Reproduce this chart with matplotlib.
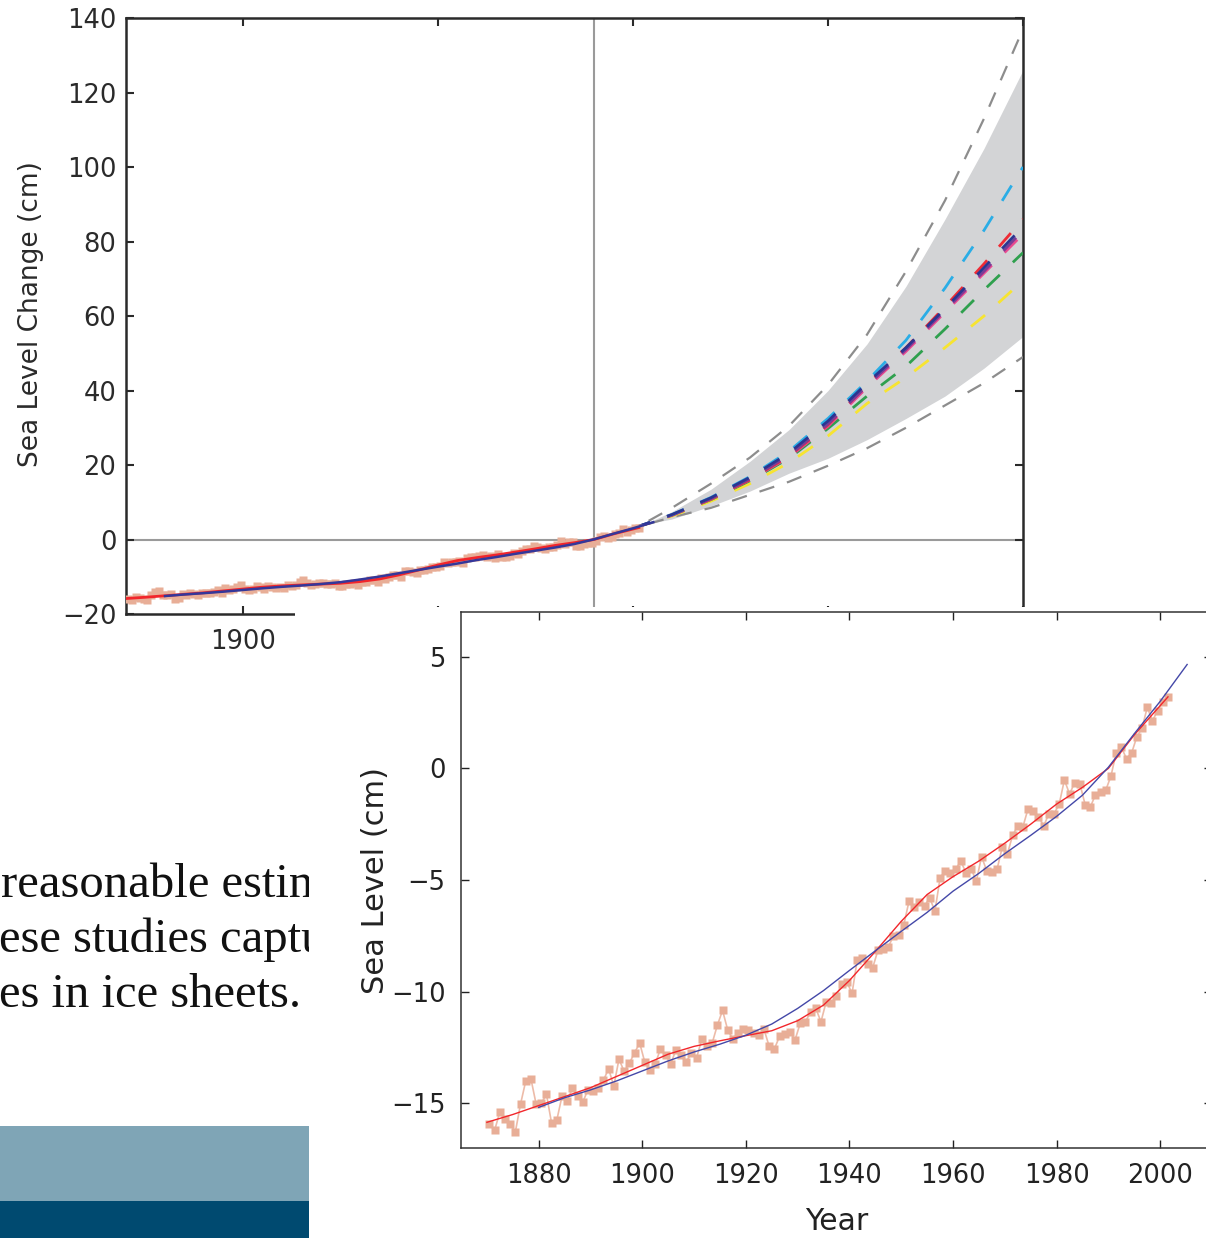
import numpy as np
import matplotlib
matplotlib.use("Agg")
import matplotlib.pyplot as plt
from matplotlib.patches import Rectangle

# ---------------- data ----------------
obs_years = list(range(1870, 2002))
obs_values = [
    -15.94, -16.20, -15.38, -15.70, -15.94, -16.27, -15.03, -14.00, -13.90, -15.03,
    -15.00, -14.60, -15.90, -15.75, -14.68, -14.90, -14.33, -14.69, -14.96, -14.39,
    -14.44, -14.33, -13.97, -13.45, -14.23, -13.02, -13.57, -13.21, -12.74, -12.30,
    -13.17, -13.51, -13.24, -12.57, -12.84, -13.24, -12.60, -12.84, -13.13, -12.75,
    -12.95, -12.13, -12.45, -12.30, -11.50, -10.84, -11.72, -12.13, -11.83, -11.65,
    -11.71, -11.86, -11.95, -11.68, -12.45, -12.57, -12.00, -11.89, -11.80, -12.16,
    -11.41, -11.35, -10.90, -10.74, -11.35, -10.46, -10.51, -10.19, -9.66, -9.56,
    -10.08, -8.58, -8.49, -8.76, -8.92, -8.15, -8.10, -8.00, -7.50, -7.45,
    -7.00, -5.95, -6.22, -5.98, -6.16, -5.80, -6.40, -4.91, -4.58, -4.70,
    -4.52, -4.16, -4.67, -4.49, -5.06, -3.95, -4.58, -4.64, -4.52, -3.53,
    -3.83, -3.00, -2.58, -2.61, -1.80, -1.89, -2.16, -2.58, -2.04, -2.04,
    -1.60, -0.52, -1.15, -0.64, -0.70, -1.62, -1.74, -1.18, -1.06, -0.97,
    -0.34, 0.70, 0.94, 0.43, 0.70, 1.42, 1.80, 2.73, 2.13, 2.58,
    2.97, 3.18,
]

smooth_years = [1870, 1875, 1880, 1885, 1890, 1895, 1900, 1905, 1910, 1915, 1920,
                1925, 1930, 1935, 1940, 1945, 1950, 1955, 1960, 1965, 1970, 1975,
                1980, 1985, 1990, 1995, 2001.5]
smooth_values = [-15.85, -15.5, -15.1, -14.7, -14.3, -13.8, -13.3, -12.8, -12.45, -12.2,
                 -11.97, -11.75, -11.3, -10.6, -9.5, -8.2, -6.85, -5.65, -4.85, -4.15,
                 -3.35, -2.5, -1.6, -0.85, 0.0, 1.5, 3.2]

fit_years = [1880, 1885, 1890, 1895, 1900, 1905, 1910, 1915, 1920, 1925, 1930, 1935,
             1940, 1945, 1950, 1955, 1960, 1965, 1970, 1975, 1980, 1985, 1990, 1995,
             2000, 2005.2]
fit_values = [-15.18, -14.75, -14.4, -14.0, -13.55, -13.1, -12.7, -12.35, -11.95, -11.45,
              -10.75, -9.95, -9.05, -8.17, -7.3, -6.45, -5.5, -4.7, -3.82, -3.0, -2.15,
              -1.2, 0.05, 1.55, 3.0, 4.65]

# projections (cm, relative to 1990)
proj_years = [2000, 2010, 2020, 2030, 2040, 2050, 2060, 2070, 2080, 2090, 2100]
scen_navy = [3.0, 6.7, 11.2, 16.7, 23.2, 31.8, 42.0, 51.5, 62.0, 73.0, 84.0]
scen_cyan = [3.0, 6.7, 11.3, 16.9, 23.7, 32.5, 42.5, 53.5, 67.5, 83.0, 100.0]
scen_purple = [3.0, 6.6, 11.0, 16.3, 22.6, 31.0, 41.3, 51.0, 61.5, 72.0, 83.0]
scen_red = [3.0, 6.6, 10.9, 16.1, 22.4, 30.8, 41.5, 51.5, 62.5, 74.0, 86.0]
scen_pink = [3.0, 6.5, 10.8, 16.0, 22.1, 30.4, 40.8, 50.5, 61.0, 71.5, 82.0]
scen_green = [3.0, 6.5, 10.7, 15.8, 21.8, 29.8, 38.5, 46.5, 56.5, 67.0, 77.0]
scen_yellow = [3.0, 6.3, 10.3, 15.0, 20.6, 27.8, 36.5, 43.5, 51.5, 60.0, 69.5]

range_years = [2004, 2010, 2020, 2030, 2040, 2050, 2060, 2070, 2080, 2090, 2100]
band_upper = [4.6, 7.5, 13.5, 21.0, 29.5, 40.0, 52.5, 68.0, 86.0, 105.0, 126.0]
band_lower = [4.3, 5.5, 9.0, 13.0, 17.8, 21.8, 26.8, 32.5, 38.5, 46.0, 54.5]
dash_upper = [5.0, 8.5, 15.0, 22.0, 30.5, 41.5, 55.0, 72.0, 91.0, 113.0, 137.0]
dash_lower = [4.2, 6.0, 8.5, 12.0, 15.5, 19.8, 24.5, 30.0, 36.0, 42.0, 49.0]

top_xticks = [1900, 1950, 2000, 2050, 2100]
top_xticklabels = ["1900", "", "", "", ""]   # the others are hidden under the inset
top_yticks = [-20, 0, 20, 40, 60, 80, 100, 120, 140]
in_xticks = [1880, 1900, 1920, 1940, 1960, 1980, 2000]
in_yticks = [-15, -10, -5, 0, 5]

text_lines = ["reasonable estin", "ese studies captu", "es in ice sheets."]

# ---------------- layout ----------------
W, H = 1206, 1238
fig = plt.figure(figsize=(W / 100, H / 100), dpi=100)
fig.patch.set_facecolor("white")


def box(l, t, r, b):
    return [l / W, 1 - b / H, (r - l) / W, (b - t) / H]


SQ = "#E8AE97"
RED = "#F2262B"
BLUE = "#34379A"
SPINE = "#2a2a2a"

# ---- main (top) chart ----
ax1 = fig.add_axes(box(126, 18, 1023, 614), zorder=1)
ax1.set_xlim(1870, 2100)
ax1.set_ylim(-20, 140)
ax1.axhline(0, color="#9a9a9a", lw=1.5, zorder=1)
ax1.axvline(1990, color="#9a9a9a", lw=1.5, zorder=1)

ax1.fill_between(range_years, band_lower, band_upper, color="#D3D4D6", lw=0, zorder=2)
ax1.plot(range_years, dash_upper, color="#8d8d8d", lw=1.6, dashes=(7, 6), zorder=3)
ax1.plot(range_years, dash_lower, color="#8d8d8d", lw=1.6, dashes=(7, 6), zorder=3)

scen = [(scen_yellow, "#F7E431"), (scen_green, "#2FA04E"), (scen_pink, "#E9498F"),
        (scen_red, "#EE2B35"), (scen_purple, "#7A3C97"), (scen_cyan, "#2AADE6"),
        (scen_navy, "#2B3590")]
for vals, c in scen:
    ax1.plot(proj_years, vals, color=c, lw=2.0, dashes=(6.5, 6.5), zorder=4)

ax1.plot(np.array(obs_years) + 0.5, obs_values, color=SQ, lw=1.2, marker="s", ms=6,
         mec="none", mfc=SQ, zorder=5)
ax1.plot(smooth_years, smooth_values, color=RED, lw=2.0, zorder=6)
ax1.plot(fit_years, fit_values, color=BLUE, lw=1.8, zorder=7)

ax1.set_xticks(top_xticks)
ax1.set_xticklabels(top_xticklabels)
ax1.set_yticks(top_yticks)
ax1.tick_params(direction="in", length=6, width=1.5, top=True, right=True,
                labelsize=18.5, colors=SPINE, pad=11)
ax1.tick_params(axis="y", pad=7)
for s in ax1.spines.values():
    s.set_linewidth(1.8)
    s.set_color(SPINE)
ax1.set_ylabel("Sea Level Change (cm)", fontsize=19, color=SPINE)
ax1.yaxis.set_label_coords(-0.0914, 0.503)

# ---- white cover (pasted inset background) ----
fig.add_artist(Rectangle((295 / W, 0), 1 - 295 / W, 1 - 607 / H,
                         transform=fig.transFigure, facecolor="white",
                         edgecolor="none", zorder=2))

# ---- inset chart ----
ax2 = fig.add_axes(box(461, 612, 1212, 1148), zorder=3)
ax2.set_facecolor("white")
ax2.set_xlim(1865, 2010)
ax2.set_ylim(-17, 7)
ax2.plot(np.array(obs_years) + 0.5, obs_values, color="#EDBBA8", lw=1.2, marker="s",
         ms=5.5, mec="none", mfc=SQ, zorder=3)
ax2.plot(smooth_years, smooth_values, color=RED, lw=1.0, zorder=4)
ax2.plot(fit_years, fit_values, color="#4448A8", lw=1.0, zorder=5)
ax2.set_xticks(in_xticks)
ax2.set_yticks(in_yticks)
ax2.tick_params(direction="in", length=5.5, width=1.0, top=True, right=True,
                labelsize=18.5, colors="#222222", pad=11)
for s in ax2.spines.values():
    s.set_linewidth(1.1)
    s.set_color("#333333")
ax2.set_xlabel("Year", fontsize=21.5, color="#222222")
ax2.xaxis.set_label_coords(0.5, -0.11)
ax2.set_ylabel("Sea Level (cm)", fontsize=22, color="#222222")
ax2.yaxis.set_label_coords(-0.0945, 0.5)

# ---- page fragment on the left ----
axt = fig.add_axes(box(0, 840, 309, 1238), zorder=4)
axt.set_xlim(0, 309)
axt.set_ylim(1238, 840)
axt.set_axis_off()
for i, line in enumerate(text_lines):
    axt.text(1 if i == 0 else -1, 897 + 55 * i, line, fontsize=35,
             family="Liberation Serif", color="#111111", va="baseline", ha="left",
             clip_on=True)
axt.add_patch(Rectangle((0, 1126), 309, 75, facecolor="#7FA5B6", edgecolor="none",
                        clip_on=True))
axt.add_patch(Rectangle((0, 1201), 309, 37, facecolor="#004A70", edgecolor="none",
                        clip_on=True))

fig.savefig("out.png", dpi=100, facecolor="white")
